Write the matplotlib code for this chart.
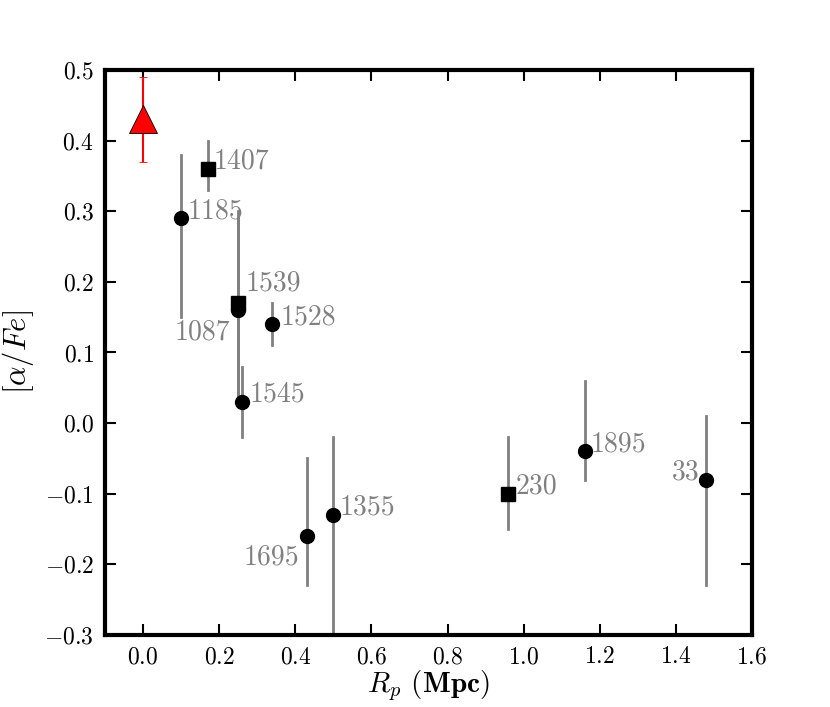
import numpy as np
import matplotlib
matplotlib.use('Agg')
import matplotlib.pyplot as plt

plt.rcParams['font.family'] = 'serif'
plt.rcParams['font.serif'] = ['cmr10']
plt.rcParams['mathtext.fontset'] = 'cm'
plt.rcParams['axes.formatter.use_mathtext'] = True

# galaxies: projected radius, [alpha/Fe], error bar limits
names = ["1407", "1185", "1539", "1087", "1528", "1545", "1695", "1355", "230", "1895", "33"]
rp = [0.17, 0.10, 0.25, 0.25, 0.34, 0.26, 0.43, 0.50, 0.96, 1.16, 1.48]
afe = [0.36, 0.29, 0.17, 0.16, 0.14, 0.03, -0.16, -0.13, -0.10, -0.04, -0.08]
err_lo = [0.33, 0.15, 0.04, 0.03, 0.11, -0.02, -0.23, -0.30, -0.15, -0.08, -0.23]
err_hi = [0.40, 0.38, 0.30, 0.29, 0.17, 0.08, -0.05, -0.02, -0.02, 0.06, 0.01]
marker = ["s", "o", "s", "o", "o", "o", "o", "o", "s", "o", "o"]
# label offsets in pixels (dx, dy up, ha)
lab_off = [(6, 0, "left"), (6, 0, "left"), (7, 13, "left"), (-8, -29, "right"),
           (8, 0, "left"), (8, 0, "left"), (-8, -28, "right"), (6, 0, "left"),
           (7, 0, "left"), (6, 0, "left"), (-7, 0, "right")]

# central galaxy
bcg_rp = [0.0]
bcg_afe = [0.43]
bcg_lo = [0.37]
bcg_hi = [0.49]

fig = plt.figure(figsize=(8.3, 7.07), dpi=100)
ax = fig.add_axes([0.1265, 0.102, 0.7795, 0.799])

for i in range(len(names)):
    ax.plot([rp[i], rp[i]], [err_lo[i], err_hi[i]], color='#808080', lw=2, zorder=2)
for i in range(len(names)):
    ax.plot(rp[i], afe[i], marker=marker[i], color='k', ms=10 if marker[i] == 'o' else 10.5,
            ls='none', zorder=3)
    dx, dy, ha = lab_off[i]
    ax.annotate(names[i], (rp[i], afe[i]), xytext=(dx, dy), textcoords='offset pixels',
                ha=ha, va='baseline', color='#808080', fontsize=20, zorder=4)

yerr = np.array([[bcg_afe[0] - bcg_lo[0]], [bcg_hi[0] - bcg_afe[0]]])
ax.errorbar(bcg_rp, bcg_afe, yerr=yerr, fmt='^', color='red', ecolor='red', mfc='red',
            mec='k', mew=0.6, ms=20, elinewidth=1.5, capsize=3, capthick=1, zorder=5)

ax.set_xlim(-0.1, 1.6)
ax.set_ylim(-0.3, 0.5)
ax.set_xticks(np.arange(0.0, 1.61, 0.2))
ax.set_yticks(np.arange(-0.3, 0.51, 0.1))
ax.xaxis.set_major_formatter(plt.FuncFormatter(lambda v, p: r'$%.1f$' % v))
ax.yaxis.set_major_formatter(plt.FuncFormatter(lambda v, p: r'$%.1f$' % (0 if abs(v) < 1e-9 else v)))
ax.tick_params(direction='in', length=8, width=1.5, top=True, right=True, labelsize=17, pad=8)
for s in ax.spines.values():
    s.set_linewidth(3)

ax.set_xlabel(r'$R_p$ $\mathbf{(Mpc)}$', fontsize=21, labelpad=0)
ax.set_ylabel(r'$[\alpha/Fe]$', fontsize=22, labelpad=6)

fig.savefig('out.png', dpi=100)
